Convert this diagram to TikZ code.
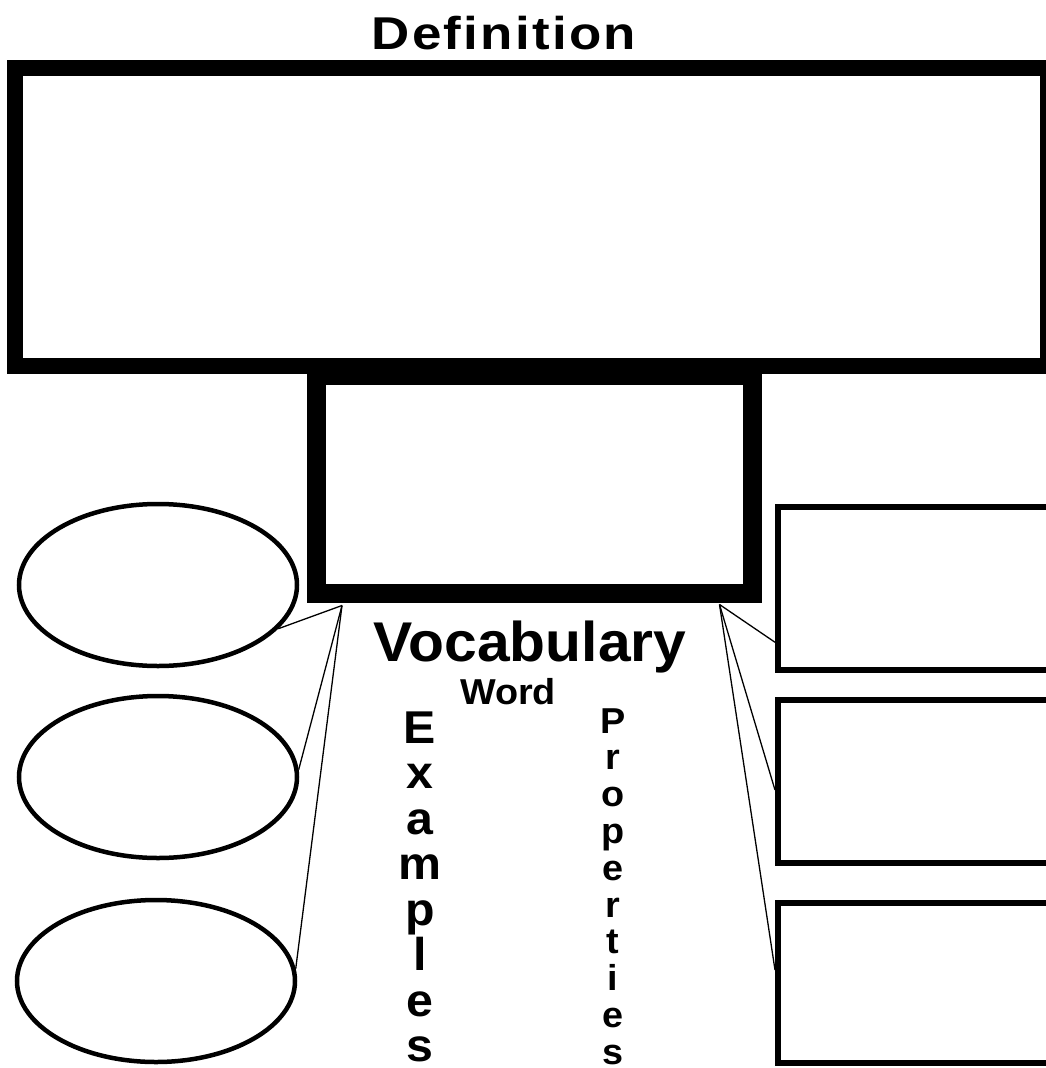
\documentclass[tikz,border=0pt]{standalone}
\usepackage{fontspec}
\setmainfont{Liberation Sans}
\newfontfamily\widefont{Liberation Sans}[FakeStretch=1.15, LetterSpace=5]
\newfontfamily\titlefont{Liberation Sans}[FakeStretch=1.05]
\usetikzlibrary{shapes.geometric, calc}

\begin{document}
\begin{tikzpicture}[x=1pt, y=-1pt,
    defframe/.style={draw=black, line width=16pt, inner sep=0pt},
    wordframe/.style={draw=black, line width=19pt, inner sep=0pt},
    notebox/.style={draw=black, line width=6pt, inner sep=0pt, minimum width=282pt},
    exoval/.style={ellipse, draw=black, line width=4.5pt, inner sep=0pt,
                   minimum width=278pt, minimum height=162pt},
    spoke/.style={draw=black, line width=1.3pt},
    exletter/.style={font=\titlefont\bfseries\fontsize{46}{46}\selectfont, anchor=base, inner sep=0pt},
    propletter/.style={font=\titlefont\bfseries\fontsize{36}{36}\selectfont, anchor=base, inner sep=0pt}]
    \useasboundingbox (0,0) rectangle (1045,1068);

    \node[defframe, minimum width=1033pt, minimum height=298pt] (definition) at (531.5,217) {};
    \node[wordframe, minimum width=435.5pt, minimum height=217.5pt] (word) at (534.25,484.25) {};

    \node[font=\widefont\bfseries\fontsize{46}{46}\selectfont, anchor=base] (deftitle) at (504,49) {Definition};
    \node[font=\titlefont\bfseries\fontsize{56}{56}\selectfont, anchor=base] (vocab) at (530,661) {Vocabulary};
    \node[font=\titlefont\bfseries\fontsize{36}{36}\selectfont, anchor=base] (wordtitle) at (508,704) {Word};

    \node[exoval] (ex1) at (158,585) {};
    \node[exoval] (ex2) at (158,777) {};
    \node[exoval] (ex3) at (156,981) {};

    \node[notebox, minimum height=162.5pt] (prop1) at (919,588.25) {};
    \node[notebox, minimum height=163pt] (prop2) at (919,781.5) {};
    \node[notebox, minimum height=160pt] (prop3) at (919,983) {};

    \coordinate (hubL) at ([xshift=35pt, yshift=-3pt]word.south west);
    \coordinate (hubR) at ([xshift=-42pt, yshift=-2pt]word.south east);
    \draw[spoke] (hubL) -- (ex1.-20);
    \draw[spoke] (hubL) -- (ex2.3);
    \draw[spoke] (hubL) -- (ex3.5);
    \draw[spoke] (hubR) -- ([yshift=-54pt]prop1.west);
    \draw[spoke] (hubR) -- ([yshift=-8.5pt]prop2.west);
    \draw[spoke] (hubR) -- ([yshift=13pt]prop3.west);

    \foreach \ch [count=\i from 0] in {E,x,a,m,p,l,e,s}
        \node[exletter] (exl\i) at (420,{743+45.5*\i}) {\ch};
    \foreach \ch [count=\i from 0] in {P,r,o,p,e,r,t,i,e,s}
        \node[propletter] (prl\i) at (613,{733+36.8*\i}) {\ch};
\end{tikzpicture}
\end{document}
